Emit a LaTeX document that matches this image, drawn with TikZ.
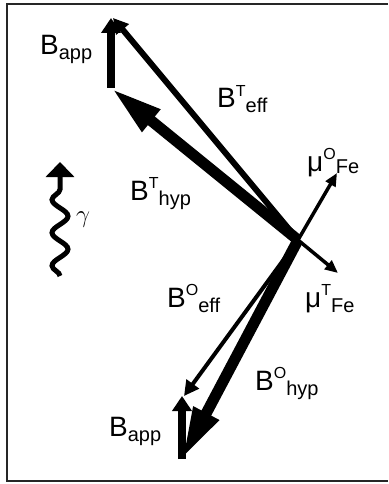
\documentclass[tikz,border=0pt]{standalone}
\usepackage{fontspec}
\setmainfont{Liberation Sans}
\usetikzlibrary{arrows.meta,decorations.pathmorphing}
\newcommand{\vsup}[1]{\raisebox{12pt}{\fontsize{16}{16}\selectfont #1}}
\newcommand{\vsub}[1]{\raisebox{-5pt}{\fontsize{20}{20}\selectfont #1}}
\tikzset{
  frame/.style={line width=1.5pt, draw=black!85},
  vechyp/.style={-{Triangle[length=52pt,width=26pt]}, line width=11pt},
  vecapp/.style={-{Triangle[length=15pt,width=19pt]}, line width=8pt},
  veceff/.style={-{Triangle[length=15pt,width=16pt]}, line width=6pt},
  veceffo/.style={-{Triangle[length=15pt,width=15pt]}, line width=4pt},
  vecmu/.style={-{Triangle[length=13pt,width=11pt]}, line width=3.5pt},
  wave/.style={line width=5pt, decorate,
    decoration={snake, segment length=33pt, amplitude=8pt}},
  wavetip/.style={-{Triangle[length=15pt,width=28pt]}, line width=5pt},
  lbl/.style={inner sep=0pt, anchor=base west, font=\fontsize{28}{28}\selectfont}
}
\begin{document}
\begin{tikzpicture}[x=1pt,y=-1pt]
    \useasboundingbox (0,0) rectangle (388,484);
    \draw[frame] (388,4) -- (7,4) -- (7,481) -- (388,481);
    % common origin of all vectors
    \coordinate (O) at (298,240);
    \coordinate (appT0) at (111,88);
    \coordinate (appT1) at (111,18);
    \coordinate (effT) at (113,18);
    \coordinate (muO) at (337,173);
    \coordinate (muT) at (338,273);
    \coordinate (appO0) at (182,459);
    \coordinate (appO1) at (182,396);
    \coordinate (effO) at (184,396);
    % tetrahedral site
    \draw[vechyp] (O) -- (appT0);
    \draw[vecapp] (appT0) -- (appT1);
    \draw[veceff] (O) -- (effT);
    % octahedral site
    \draw[veceffo] (O) -- (effO);
    \draw[vechyp] (O) -- (appO0);
    \draw[vecapp] (appO0) -- (appO1);
    \draw[vecmu] (O) -- (muO);
    \draw[vecmu] (O) -- (muT);
    % gamma ray
    \coordinate (g0) at (60,276);
    \coordinate (g1) at (60,177);
    \coordinate (g2) at (60,162);
    \draw[wave] (g0) -- (g1);
    \draw[wavetip] (g1) -- (g2);
    \node[font=\fontsize{28}{28}\selectfont] (gam) at (83,220) {$\gamma$};
    % labels
    \node[lbl] (lappT) at (40,55) {B\vsub{app}};
    \node[lbl] (leffT) at (217,108) {B\vsup{T}\vsub{eff}};
    \node[lbl] (lhypT) at (130,200) {B\vsup{T}\vsub{hyp}};
    \node[lbl] (lmuO) at (307,171) {μ\vsup{O}\raisebox{-2pt}{\fontsize{20}{20}\selectfont Fe}};
    \node[lbl] (leffO) at (167,307) {B\vsup{O}\vsub{eff}};
    \node[lbl] (lmuT) at (305,307) {μ\vsup{T}\vsub{Fe}};
    \node[lbl] (lhypO) at (255,390) {B\vsup{O}\vsub{hyp}};
    \node[lbl] (lappO) at (109,436) {B\vsub{app}};
  \end{tikzpicture}
\end{document}
